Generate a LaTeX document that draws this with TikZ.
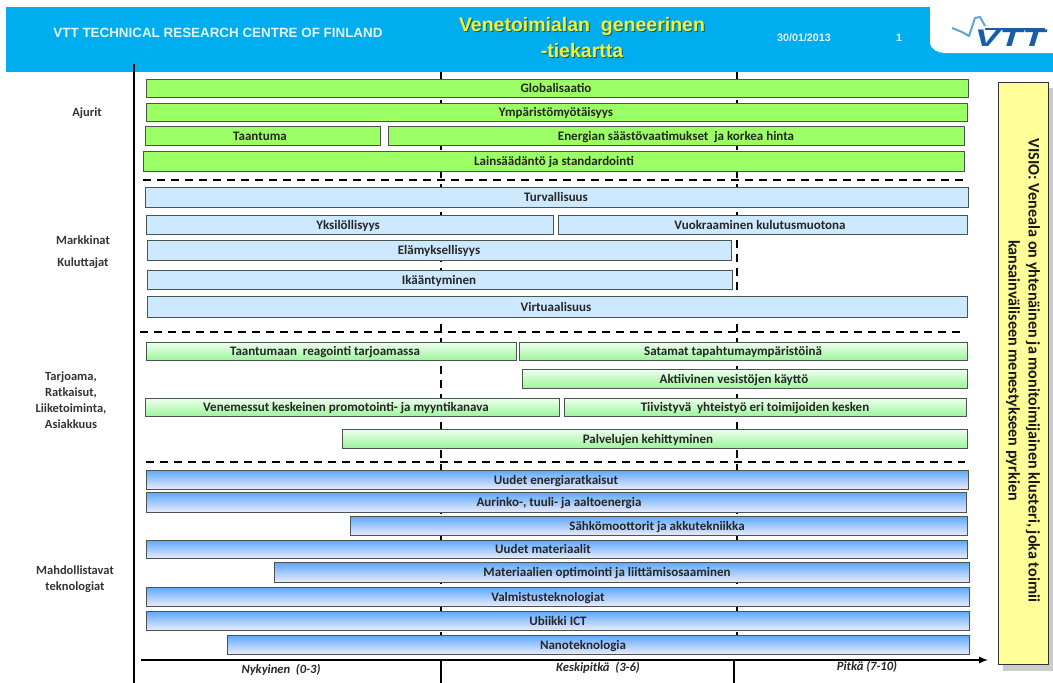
\documentclass[tikz,border=0pt]{standalone}
\usepackage{fontspec}
\setmainfont{Carlito}
\newfontfamily\headfont{Liberation Sans}
\definecolor{headblue}{HTML}{00ADEF}
\definecolor{bargreen}{HTML}{9CFF66}
\definecolor{barsky}{HTML}{CDE9FF}
\definecolor{visioyellow}{HTML}{FFFF99}
\definecolor{logoblue}{HTML}{1A5CA8}
\definecolor{logosky}{HTML}{5AA6D6}
\definecolor{titleyellow}{HTML}{F7F030}
\definecolor{barline}{HTML}{4A5550}
\definecolor{offertop}{HTML}{F0FFF0}
\definecolor{offerbottom}{HTML}{9CF59C}
\definecolor{techtop}{HTML}{5AA8FF}
\definecolor{techbottom}{HTML}{EAEAFA}
\tikzset{
	barbox/.style={draw=barline, line width=0.9pt},
	drivebar/.style={barbox, fill=bargreen},
	marketbar/.style={barbox, fill=barsky},
	offerbar/.style={barbox, top color=offertop, bottom color=offerbottom},
	techbar/.style={barbox, top color=techtop, bottom color=techbottom},
	bartext/.style={font=\fontsize{13}{13}\selectfont\bfseries, text=black!85, anchor=mid, yshift=-2.5pt},
	sidetext/.style={font=\fontsize{12.5}{16}\selectfont\bfseries, text=black!80, align=center},
	timetext/.style={font=\fontsize{12.6}{13}\selectfont\bfseries\itshape, text=black!85},
	headtext/.style={font=\headfont\fontsize{13.4}{14}\selectfont\bfseries, text=white!88!headblue},
	sepline/.style={draw=black, line width=1.4pt, dash pattern=on 8pt off 6pt},
	timeline/.style={draw=black, line width=1.5pt, dash pattern=on 8pt off 6pt},
}
\begin{document}
\begin{tikzpicture}[x=1pt,y=-1pt]
	\useasboundingbox (0,0) rectangle (1053,683);
	% header
	\fill[headblue] (6,7) rectangle (1053,72);
	\fill[white] (1053,7) -- (930,7) -- (930,42) to[out=270,in=180] (945,53) -- (1053,53) -- cycle;
	\node[headtext] (company) at (218,33) {VTT TECHNICAL RESEARCH CENTRE OF FINLAND};
	\node[headtext, font=\headfont\fontsize{10.7}{11}\selectfont\bfseries] (date) at (804,38) {30/01/2013};
	\node[headtext, font=\headfont\fontsize{10.7}{11}\selectfont\bfseries] (page) at (899,38) {1};
	\node[font=\headfont\fontsize{19.5}{26}\selectfont\bfseries, text=black!45!headblue, align=center] at (583,39) {Venetoimialan\ \ geneerinen\\-tiekartta};
	\node[font=\headfont\fontsize{19.5}{26}\selectfont\bfseries, text=titleyellow, align=center] (title) at (582,38) {Venetoimialan\ \ geneerinen\\-tiekartta};
	% logo
	\node[font=\headfont\fontsize{24}{24}\selectfont\bfseries\itshape, text=logoblue, inner sep=0pt, xscale=1.55] (logo) at (1010,38.5) {VTT};
	\draw[logosky, line width=2pt, line join=round] (952,28) -- (962,32) -- (969,36) -- (975,18) -- (980,17) -- (985,26);
	\draw[logoblue, line width=2pt] (985,29) -- (1045,29);
	% time lines
	\foreach \tx/\tb in {441/441,737/734}{
		\draw[timeline] (\tx,72) -- (\tx,660);
		\draw[black, line width=1.5pt] (\tb,660) -- (\tb,683);
	}
	% separators
	\draw[sepline] (143,180) -- (964,180);
	\draw[sepline] (140,332) -- (960,332);
	\draw[sepline] (146,462) -- (965,462);
	% drivers
	\foreach \nm/\xa/\ya/\xb/\yb/\tx/\txt in {
		globalisaatio/146/79/968/97/556/Globalisaatio,
		ymparisto/146/103/967/121/556/Ympäristömyötäisyys,
		taantuma/145/126/380/145/260/Taantuma,
		energia/388/126/964/145/676/Energian säästövaatimukset\ \ ja korkea hinta,
		laki/143/151/964/171/554/Lainsäädäntö ja standardointi}{
		\draw[drivebar] (\xa,\ya) rectangle (\xb,\yb);
		\node[bartext] (\nm) at (\tx,\ya/2+\yb/2) {\txt};
	}
	% markets
	\foreach \nm/\xa/\ya/\xb/\yb/\tx/\txt in {
		turva/145/187/968/207/556/Turvallisuus,
		yksilo/146/215/553/234/348/Yksilöllisyys,
		vuokra/558/215/967/234/760/Vuokraaminen kulutusmuotona,
		elamys/147/240/731/260/439/Elämyksellisyys,
		ika/147/270/732/289/439/Ikääntyminen,
		virtu/147/296/967/317/556/Virtuaalisuus}{
		\draw[marketbar] (\xa,\ya) rectangle (\xb,\yb);
		\node[bartext] (\nm) at (\tx,\ya/2+\yb/2) {\txt};
	}
	% offering
	\foreach \nm/\xa/\ya/\xb/\yb/\tx/\txt in {
		reagointi/146/342/516/360/325/Taantumaan\ \ reagointi tarjoamassa,
		satamat/519/342/967/360/733/Satamat tapahtumaympäristöinä,
		aktiivinen/522/369/967/388/734/Aktiivinen vesistöjen käyttö,
		messut/145/398/559/416/346/Venemessut keskeinen promotointi- ja myyntikanava,
		yhteistyo/564/398/966/416/755/Tiivistyvä\ \ yhteistyö eri toimijoiden kesken,
		palvelut/342/429/967/448/648/Palvelujen kehittyminen}{
		\draw[offerbar] (\xa,\ya) rectangle (\xb,\yb);
		\node[bartext] (\nm) at (\tx,\ya/2+\yb/2) {\txt};
	}
	% technologies
	\foreach \nm/\xa/\ya/\xb/\yb/\tx/\txt in {
		uusienergia/146/470/968/489/556/Uudet energiaratkaisut,
		aurinko/146/492/966/512/559/{Aurinko-, tuuli- ja aaltoenergia},
		sahko/350/516/967/535/657/Sähkömoottorit ja akkutekniikka,
		materiaali/146/540/967/558/543/Uudet materiaalit,
		optimointi/274/562/969/582/607/Materiaalien optimointi ja liittämisosaaminen,
		valmistus/146/587/969/606/548/Valmistusteknologiat,
		ubiikki/146/611/969/630/558/Ubiikki ICT,
		nano/227/635/969/654/583/Nanoteknologia}{
		\draw[techbar] (\xa,\ya) rectangle (\xb,\yb);
		\node[bartext] (\nm) at (\tx,\ya/2+\yb/2) {\txt};
	}
	% axes
	\draw[black, line width=2pt] (134,64) -- (134,683);
	\draw[-latex, black, line width=2pt] (141,660) -- (988,660);
	\node[timetext] (nykyinen) at (281,669.5) {Nykyinen\ \ (0-3)};
	\node[timetext] (keskipitka) at (598,668) {Keskipitkä\ \ (3-6)};
	\node[timetext] (pitka) at (867,667) {Pitkä (7-10)};
	% side labels
	\node[sidetext] (ajurit) at (87,113) {Ajurit};
	\node[sidetext] (markkinat) at (83,240) {Markkinat};
	\node[sidetext] (kuluttajat) at (83,263) {Kuluttajat};
	\node[sidetext] (tarjoama) at (71,400) {Tarjoama,\\Ratkaisut,\\Liiketoiminta,\\Asiakkuus};
	\node[sidetext] (teknologiat) at (75,579.5) {Mahdollistavat\\teknologiat};
	% vision
	\fill[black!20] (1003,88) rectangle (1053,671);
	\draw[draw=black!80, line width=0.9pt, fill=visioyellow] (998,82) rectangle (1048,664);
	\node[rotate=270, font=\fontsize{16.2}{20}\selectfont\bfseries, text=black!90, align=center] (visio) at (1023,370.5) {VISIO: Veneala on yhtenäinen ja monitoimijainen klusteri, joka toimii\\kansainväliseen menestykseen pyrkien};
\end{tikzpicture}
\end{document}
